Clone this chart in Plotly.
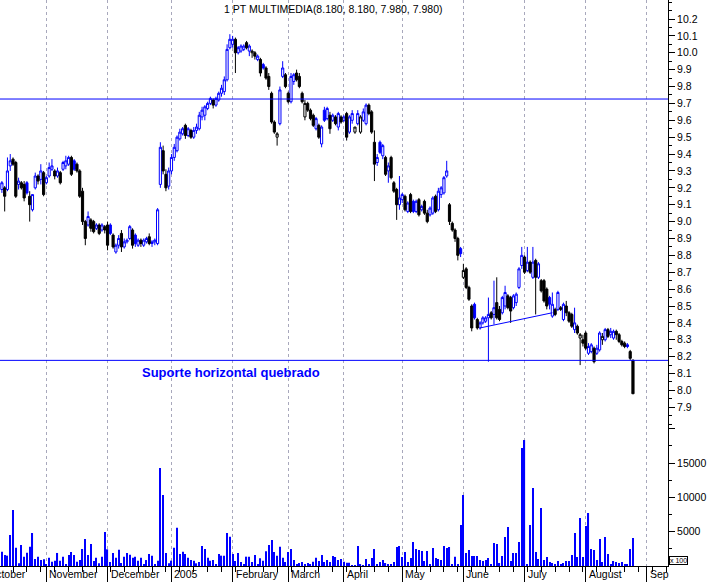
import numpy as np
import plotly.graph_objects as go

# ---------------- data ----------------
open_ = [9.19,9.20,9.19,9.33,9.37,9.35,9.22,9.23,9.22,9.23,9.15,9.07,9.20,9.27,9.25,9.29,9.23,9.27,9.31,9.30,
         9.27,9.29,9.31,9.33,9.34,9.38,9.36,9.34,9.30,9.18,9.00,8.98,9.01,9.00,8.96,8.98,8.95,8.97,8.98,8.98,
         8.92,8.82,8.86,8.93,8.85,8.88,8.90,8.95,8.92,8.86,8.89,8.86,8.88,8.91,8.87,8.88,8.87,9.22,9.42,9.28,
         9.21,9.30,9.38,9.42,9.49,9.52,9.57,9.51,9.54,9.50,9.54,9.55,9.62,9.63,9.67,9.70,9.72,9.69,9.72,9.76,
         9.77,9.84,10.03,10.05,10.08,10.00,10.01,10.02,10.06,10.01,10.00,10.00,9.96,9.96,9.93,9.91,9.86,9.76,9.59,9.50,
         9.58,9.86,9.87,9.76,9.71,9.83,9.88,9.86,9.76,9.62,9.70,9.66,9.63,9.55,9.57,9.46,9.66,9.61,9.63,9.60,
         9.62,9.56,9.62,9.60,9.64,9.53,9.60,9.53,9.58,9.53,9.60,9.58,9.69,9.65,9.47,9.35,9.47,9.39,9.38,9.30,
         9.38,9.23,9.19,9.10,9.13,9.15,9.06,9.16,9.12,9.06,9.13,9.07,9.12,9.05,9.04,9.05,9.15,9.07,9.16,9.17,
         9.27,9.10,8.99,8.95,8.90,8.84,8.67,8.72,8.61,8.50,8.51,8.42,8.37,8.40,8.41,8.43,8.46,8.45,8.52,8.48,
         8.46,8.50,8.56,8.55,8.49,8.52,8.61,8.74,8.79,8.71,8.76,8.67,8.77,8.67,8.65,8.65,8.60,8.55,8.44,8.48,
         8.48,8.49,8.42,8.50,8.46,8.45,8.36,8.38,8.31,8.30,8.34,8.22,8.23,8.25,8.22,8.24,8.30,8.30,8.36,8.33,
         8.31,8.35,8.33,8.29,8.28,8.27,8.23,8.18]
high = [9.24,9.21,9.38,9.40,9.38,9.36,9.26,9.24,9.24,9.24,9.18,9.16,9.29,9.28,9.34,9.30,9.27,9.35,9.37,9.31,
        9.32,9.30,9.36,9.39,9.39,9.39,9.37,9.35,9.31,9.20,9.01,9.06,9.02,9.01,8.99,8.99,8.99,8.98,9.00,8.99,
        8.93,8.87,8.92,8.95,8.90,8.90,8.98,8.96,8.93,8.90,8.90,8.90,8.91,8.93,8.89,8.90,9.08,9.47,9.45,9.31,
        9.32,9.40,9.46,9.51,9.55,9.56,9.58,9.56,9.55,9.56,9.58,9.65,9.68,9.69,9.71,9.74,9.73,9.74,9.77,9.81,
        9.86,10.05,10.11,10.10,10.09,10.04,10.05,10.05,10.07,10.05,10.02,10.01,9.99,9.97,9.94,9.92,9.88,9.77,9.60,9.53,
        9.80,9.95,9.88,9.77,9.88,9.88,9.90,9.88,9.77,9.72,9.71,9.67,9.64,9.62,9.58,9.57,9.68,9.68,9.65,9.64,
        9.63,9.65,9.63,9.63,9.65,9.63,9.66,9.56,9.66,9.63,9.67,9.70,9.70,9.66,9.54,9.40,9.48,9.46,9.39,9.35,
        9.39,9.24,9.20,9.27,9.17,9.16,9.12,9.17,9.13,9.13,9.14,9.10,9.13,9.07,9.09,9.15,9.16,9.20,9.21,9.27,
        9.36,9.11,9.00,8.96,8.91,8.85,8.75,8.73,8.62,8.51,8.52,8.43,8.41,8.44,8.44,8.55,8.47,8.65,8.67,8.50,
        8.56,8.62,8.57,8.56,8.57,8.58,8.73,8.85,8.80,8.85,8.77,8.85,8.78,8.76,8.66,8.66,8.61,8.56,8.58,8.49,
        8.59,8.50,8.52,8.53,8.47,8.46,8.49,8.39,8.34,8.33,8.35,8.28,8.28,8.26,8.27,8.35,8.34,8.37,8.37,8.37,
        8.36,8.36,8.34,8.30,8.29,8.28,8.24,8.18]
low = [9.17,9.06,9.18,9.30,9.33,9.14,9.19,9.19,9.12,9.16,9.00,9.06,9.19,9.22,9.22,9.15,9.22,9.26,9.30,9.25,
       9.26,9.22,9.30,9.31,9.33,9.27,9.30,9.29,9.14,8.98,8.86,8.97,8.94,8.93,8.95,8.92,8.94,8.93,8.83,8.92,
       8.84,8.81,8.84,8.82,8.84,8.87,8.89,8.84,8.85,8.85,8.85,8.85,8.87,8.86,8.85,8.86,8.86,9.20,9.28,9.18,
       9.19,9.28,9.36,9.41,9.48,9.51,9.49,9.50,9.49,9.49,9.52,9.54,9.60,9.60,9.66,9.69,9.67,9.68,9.71,9.74,
       9.75,9.83,10.02,10.03,9.88,9.99,10.00,10.01,10.02,9.98,9.97,9.96,9.95,9.86,9.90,9.84,9.78,9.58,9.52,9.45,
       9.57,9.85,9.79,9.70,9.70,9.81,9.83,9.79,9.70,9.60,9.65,9.60,9.56,9.54,9.49,9.44,9.59,9.60,9.52,9.59,
       9.57,9.54,9.58,9.59,9.48,9.52,9.58,9.52,9.57,9.52,9.59,9.57,9.63,9.52,9.24,9.33,9.40,9.37,9.27,9.23,
       9.25,9.17,9.01,9.07,9.11,9.06,9.05,9.05,9.05,9.05,9.03,9.06,9.04,8.99,9.03,9.04,9.05,9.06,9.14,9.16,
       9.26,8.98,8.94,8.88,8.77,8.79,8.66,8.60,8.53,8.35,8.42,8.36,8.36,8.39,8.40,8.17,8.42,8.39,8.42,8.41,
       8.45,8.48,8.48,8.40,8.48,8.50,8.60,8.72,8.69,8.70,8.69,8.66,8.45,8.66,8.58,8.52,8.48,8.48,8.43,8.44,
       8.47,8.47,8.41,8.44,8.40,8.37,8.34,8.33,8.15,8.26,8.24,8.21,8.22,8.16,8.21,8.23,8.27,8.29,8.31,8.31,
       8.30,8.30,8.28,8.26,8.25,8.25,8.18,7.98]
close = [9.23,9.15,9.30,9.36,9.34,9.15,9.24,9.20,9.14,9.17,9.10,9.16,9.27,9.24,9.30,9.16,9.26,9.32,9.33,9.27,
         9.30,9.23,9.35,9.36,9.38,9.28,9.31,9.30,9.15,9.00,8.90,9.03,8.96,8.94,8.98,8.93,8.98,8.95,8.86,8.93,
         8.85,8.86,8.90,8.85,8.88,8.89,8.97,8.86,8.87,8.89,8.87,8.89,8.90,8.87,8.88,8.89,9.07,9.44,9.30,9.20,
         9.30,9.38,9.44,9.50,9.53,9.55,9.51,9.55,9.50,9.54,9.56,9.63,9.66,9.68,9.70,9.73,9.69,9.73,9.76,9.79,
         9.84,10.02,10.08,10.08,10.00,10.03,10.04,10.04,10.03,10.04,10.01,9.98,9.98,9.88,9.91,9.85,9.80,9.59,9.53,9.52,
         9.78,9.91,9.80,9.71,9.86,9.87,9.84,9.80,9.71,9.70,9.66,9.61,9.57,9.61,9.50,9.56,9.60,9.67,9.55,9.63,
         9.58,9.64,9.59,9.62,9.50,9.62,9.64,9.56,9.64,9.62,9.65,9.69,9.64,9.53,9.34,9.38,9.41,9.45,9.28,9.33,
         9.26,9.18,9.10,9.14,9.16,9.07,9.11,9.06,9.06,9.12,9.04,9.09,9.05,9.00,9.08,9.14,9.06,9.18,9.20,9.26,
         9.30,9.00,8.95,8.90,8.80,8.81,8.71,8.61,8.54,8.37,8.43,8.37,8.40,8.43,8.43,8.45,8.43,8.49,8.43,8.42,
         8.55,8.58,8.49,8.47,8.56,8.57,8.72,8.80,8.70,8.76,8.70,8.76,8.67,8.75,8.59,8.53,8.50,8.51,8.51,8.45,
         8.58,8.48,8.51,8.46,8.41,8.38,8.40,8.34,8.33,8.28,8.25,8.26,8.27,8.17,8.25,8.34,8.32,8.36,8.32,8.35,
         8.35,8.33,8.29,8.27,8.26,8.26,8.19,7.98]
volume = [2090,1600,1510,4520,8160,2670,390,3060,1360,1940,2820,4810,1020,1360,870,970,200,1220,630,780,
          1900,780,1360,290,1600,2040,1600,630,870,2480,3940,1600,3210,730,1220,390,1360,4960,2430,580,
          1900,1220,2380,440,1360,1900,1650,1220,1360,780,1220,290,870,1750,1510,200,780,14290,10350,1900,
          390,780,2670,5590,1750,2090,1750,1220,870,780,390,580,2920,2480,1220,780,870,290,1750,1510,
          1510,4810,4280,1750,730,1900,580,290,1360,1360,580,1600,290,1120,780,2140,3060,3790,2040,1510,
          2820,1220,580,2040,2480,870,150,440,580,150,440,290,630,1220,730,1600,600,870,580,1460,
          1310,870,1020,630,490,490,100,100,2920,150,100,1020,150,1170,2480,150,580,870,440,290,
          150,580,2770,2920,1310,2040,580,1170,3500,2480,2330,2190,730,2190,150,2620,1170,1020,870,2920,
          2620,2770,150,1360,290,5980,10350,1900,2330,1460,1460,1460,870,730,870,1170,290,3350,3210,440,
          1460,4230,5690,730,1900,1900,3500,17200,18370,290,5980,11370,2040,1020,8460,870,1310,580,440,290,
          730,290,440,730,730,1600,4810,1310,7000,1310,5830,7730,2480,2330,870,3940,580,4230,1750,290,
          730,580,440,580,290,150,2480,4080]

month_labels = ["October", "November", "December", "2005", "February", "March", "April",
                "May", "June", "July", "August", "Sep"]
month_start_bar = [-6, 16, 38, 61, 83, 103, 123, 144, 166, 188, 210, 232]
week_start_bar = list(range(-1, 240, 5))

title_text = "1 PT MULTIMEDIA(8.180, 8.180, 7.980, 7.980)"
resistance_level = 9.726
support_level = 8.178
trend_start = (172, 8.37)
trend_end = (198, 8.46)
note_text = "Suporte horizontal quebrado"
note_level = 8.109

# ---------------- figure ----------------
BLUE = "#0000ff"
FONT = "Liberation Sans, Arial, sans-serif"
o = np.array(open_); h = np.array(high); l = np.array(low); c = np.array(close)
idx = np.arange(len(c))
prev = np.r_[c[0], c[:-1]]
up = c >= prev

XMIN, XMAX = -0.683, 239.6
fig = go.Figure()
fig.add_trace(go.Candlestick(
    x=idx[up], open=o[up], high=h[up], low=l[up], close=c[up],
    increasing=dict(line=dict(color=BLUE, width=1), fillcolor="white"),
    decreasing=dict(line=dict(color=BLUE, width=1), fillcolor=BLUE),
    whiskerwidth=0, hoverinfo="skip", xaxis="x", yaxis="y"))
fig.add_trace(go.Candlestick(
    x=idx[~up], open=o[~up], high=h[~up], low=l[~up], close=c[~up],
    increasing=dict(line=dict(color="black", width=1), fillcolor="white"),
    decreasing=dict(line=dict(color="black", width=1), fillcolor="black"),
    whiskerwidth=0, hoverinfo="skip", xaxis="x", yaxis="y"))
fig.add_trace(go.Bar(x=idx, y=volume, marker=dict(color=BLUE, line=dict(width=0)),
                     width=0.4, xaxis="x2", yaxis="y2", hoverinfo="skip"))

price_major = [round(7.8 + 0.1 * k, 2) for k in range(26)]
price_text = [("" if (v < 7.85 or v > 10.25) else f"{v:.1f}") for v in price_major]
price_minor = [round(7.75 + 0.05 * k, 3) for k in range(52)]
grid = dict(showgrid=True, gridcolor="#a8a8bc", griddash="3px,3px", gridwidth=1)
month_ticks = month_start_bar[1:]

PRICE_BOTTOM = 0.2473
fig.update_layout(
    width=707, height=582, margin=dict(l=0, r=39, t=0, b=16),
    paper_bgcolor="white", plot_bgcolor="white", showlegend=False,
    font=dict(family=FONT, size=11, color="black"),
    boxgap=0.12, boxgroupgap=0.12,
    xaxis=dict(domain=[0, 1], range=[XMIN, XMAX], anchor="y", tickmode="array",
               tickvals=month_ticks, showticklabels=False, ticks="", zeroline=False,
               showline=False, rangeslider=dict(visible=False), **grid),
    yaxis=dict(domain=[PRICE_BOTTOM, 1], range=[7.789, 10.3126], anchor="x", side="right",
               tickmode="array", tickvals=price_major, ticktext=price_text,
               ticks="outside", ticklen=6, tickcolor="black", showline=True, linecolor="black",
               showgrid=False, zeroline=False, tickfont=dict(size=10.5),
               minor=dict(tickmode="array", tickvals=price_minor, ticks="outside", ticklen=3,
                          tickcolor="black", showgrid=False)),
    xaxis2=dict(domain=[0, 1], range=[XMIN, XMAX], anchor="y2", matches="x", tickmode="array",
                tickvals=month_ticks, showticklabels=False, ticks="outside", ticklen=16,
                tickcolor="black", showline=True, linecolor="black", zeroline=False,
                minor=dict(tickmode="array", tickvals=week_start_bar, ticks="outside",
                           ticklen=5, tickcolor="black", showgrid=False), **grid),
    yaxis2=dict(domain=[0, PRICE_BOTTOM], range=[0, 20412], anchor="x2", side="right",
                tickmode="array", tickvals=[5000, 10000, 15000, 20000],
                ticktext=["5000", "10000", "15000", ""], ticks="outside", ticklen=6,
                tickcolor="black", showline=True, linecolor="black", showgrid=False,
                zeroline=False, tickfont=dict(size=10.5),
                minor=dict(tickmode="array", tickvals=[2500, 7500, 12500, 17500],
                           ticks="outside", ticklen=3, tickcolor="black", showgrid=False)),
)

shapes = [
    dict(type="line", xref="paper", yref="y", x0=0, x1=1, y0=resistance_level, y1=resistance_level,
         line=dict(color=BLUE, width=1)),
    dict(type="line", xref="paper", yref="y", x0=0, x1=1, y0=support_level, y1=support_level,
         line=dict(color=BLUE, width=1)),
    dict(type="line", xref="x", yref="y", x0=trend_start[0], y0=trend_start[1],
         x1=trend_end[0], y1=trend_end[1], line=dict(color=BLUE, width=1)),
]
fig.update_layout(shapes=shapes)

ann = []
for lab, b in zip(month_labels, month_start_bar):
    px = (b - XMIN) / (XMAX - XMIN)
    ann.append(dict(text=lab, xref="paper", yref="paper", x=px, y=0, xanchor="left",
                    yanchor="top", xshift=1, yshift=0, showarrow=False,
                    font=dict(size=10.5, color="black", family=FONT)))
ann.append(dict(text=title_text, xref="paper", yref="paper", x=0.4985, y=1, yanchor="top",
                yshift=-1, xanchor="center", showarrow=False, font=dict(size=10.5, family=FONT)))
ann.append(dict(text="<b>" + note_text + "</b>", xref="paper", yref="y", x=140 / 668, y=note_level,
                xanchor="left", yanchor="middle", showarrow=False,
                font=dict(size=13, color=BLUE, family=FONT)))
ann.append(dict(text="x 100", xref="paper", yref="paper", x=1, y=0.009, xanchor="left",
                yanchor="middle", xshift=1, showarrow=False, bordercolor="black", borderwidth=1,
                borderpad=0, bgcolor="white", font=dict(size=7, family=FONT)))
fig.update_layout(annotations=ann)

fig.write_html("out.html", config={"displayModeBar": False},
               post_script="document.body.style.margin='0px';document.body.style.overflow='hidden';")
